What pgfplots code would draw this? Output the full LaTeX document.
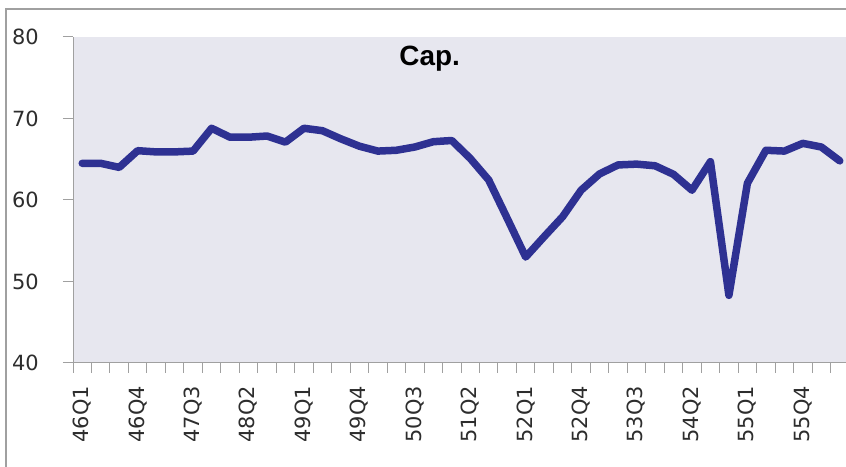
\documentclass[border=0pt]{standalone}
\usepackage{pgfplots}
\pgfplotsset{compat=1.18}
\usepackage{fontspec}
\setmainfont{Liberation Sans}
\newfontfamily\tickfont{DejaVu Sans}
\definecolor{bgc}{RGB}{231,231,239}
\definecolor{linec}{RGB}{46,49,146}
\definecolor{axc}{RGB}{160,160,160}
\definecolor{txt}{RGB}{45,45,45}
\begin{document}
\begin{tikzpicture}[x=1bp,y=1bp]
\useasboundingbox (0,0) rectangle (846,467);
\clip (0,0) rectangle (846,467);
\fill[white] (0,0) rectangle (846,467);
\draw[axc, line width=1.5bp] (6,-20) -- (6,458) -- (900,458);
\begin{axis}[
  at={(73bp,104bp)}, anchor=south west,
  width=776bp, height=326bp, scale only axis,
  xmin=-0.5, xmax=41.5, ymin=40, ymax=80,
  axis background/.style={fill=bgc},
  axis x line*=bottom, axis y line*=left,
  axis line style={axc, line width=1bp},
  tick style={axc, line width=1bp},
  tick align=outside,
  major tick length=10bp,
  ytick={40,50,60,70,80},
  /pgf/number format/assume math mode=true,
  xtick={-0.5,0.5,...,41.5},
  xticklabels={},
  extra x ticks={0,3,...,39},
  extra x tick labels={46Q1,46Q4,47Q3,48Q2,49Q1,49Q4,50Q3,51Q2,52Q1,52Q4,53Q3,54Q2,55Q1,55Q4},
  extra x tick style={tick style={draw=none}},
  ticklabel style={font=\tickfont\fontsize{21}{25}\selectfont, text=txt, inner sep=0pt},
  xticklabel style={rotate=90, anchor=east},
  xticklabel shift=13bp,
  yticklabel shift=24bp,
]
\addplot[linec, line width=7.5bp, line join=round, line cap=round, mark=none] table {
x y
0 64.5
1 64.5
2 64.0
3 66.05
4 65.9
5 65.9
6 66.0
7 68.8
8 67.7
9 67.7
10 67.85
11 67.1
12 68.8
13 68.5
14 67.5
15 66.6
16 66.0
17 66.1
18 66.5
19 67.15
20 67.3
21 65.1
22 62.45
23 57.75
24 53.0
25 55.5
26 57.95
27 61.2
28 63.2
29 64.3
30 64.4
31 64.2
32 63.15
33 61.2
34 64.7
35 48.3
36 62.05
37 66.1
38 66.0
39 66.95
40 66.5
41 64.8
};
\node[font=\bfseries\fontsize{28}{32}\selectfont, text=black] at (axis cs:18.8,77.3) {Cap.};
\end{axis}
\end{tikzpicture}
\end{document}
